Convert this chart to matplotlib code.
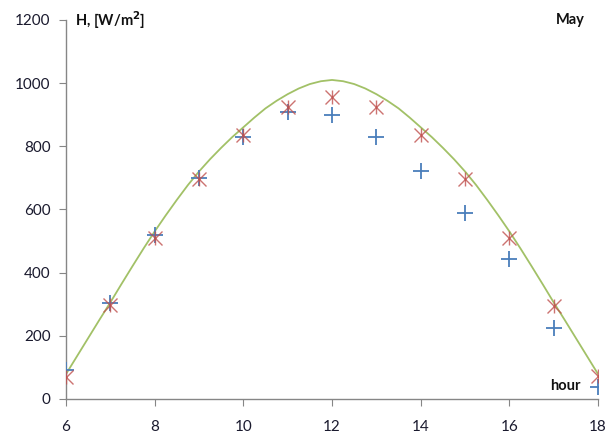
import matplotlib
matplotlib.use("Agg")
import matplotlib.pyplot as plt

hours = [6, 7, 8, 9, 10, 11, 12, 13, 14, 15, 16, 17, 18]
measured = [90, 305, 520, 700, 828, 908, 898, 830, 722, 590, 442, 224, 36]
model_pts = [70, 297, 510, 697, 835, 925, 955, 925, 835, 695, 510, 295, 72]

curve_t = [6, 6.25, 6.5, 6.75, 7, 7.25, 7.5, 7.75, 8, 8.25, 8.5, 8.75, 9,
           9.25, 9.5, 9.75, 10, 10.25, 10.5, 10.75, 11, 11.25, 11.5, 11.75, 12,
           12.25, 12.5, 12.75, 13, 13.25, 13.5, 13.75, 14, 14.25, 14.5, 14.75, 15,
           15.25, 15.5, 15.75, 16, 16.25, 16.5, 16.75, 17, 17.25, 17.5, 17.75, 18]
curve_h = [78, 135, 192, 249, 305, 363, 420, 476, 530, 581, 630, 677, 720,
           759, 795, 829, 860, 891, 920, 944, 965, 983, 997, 1006, 1010,
           1006, 997, 983, 965, 944, 920, 891, 860, 829, 795, 759, 720,
           677, 630, 581, 530, 476, 420, 363, 305, 249, 192, 135, 78]

xticks = [6, 8, 10, 12, 14, 16, 18]
yticks = [0, 200, 400, 600, 800, 1000, 1200]

plt.rcParams['font.family'] = ['Lato', 'DejaVu Sans']

fig = plt.figure(figsize=(6.16, 4.34), dpi=100)
ax = fig.add_axes([0.107, 0.081, 0.864, 0.873])

ax.plot(curve_t, curve_h, color='#A2C167', lw=1.3, zorder=2)
ax.plot(hours, measured, ls='none', marker='+', ms=11, mew=1.3, color='#4A7EBB', zorder=3)
ax.plot(hours, model_pts, ls='none', marker='x', ms=10, mew=1.0, color='#C0504D', alpha=0.8, zorder=4)
ax.plot(hours, model_pts, ls='none', marker='|', ms=10, mew=1.0, color='#C0504D', alpha=0.8, zorder=4)

ax.set_xlim(6, 18)
ax.set_ylim(0, 1200)
ax.set_xticks(xticks)
ax.set_yticks(yticks)
ax.spines['top'].set_visible(False)
ax.spines['right'].set_visible(False)
for s in ('left', 'bottom'):
    ax.spines[s].set_color('#868686')
    ax.spines[s].set_linewidth(1.0)
ax.tick_params(axis='both', direction='out', length=5, color='#868686', labelsize=11,
               labelcolor='#1a1a2e')
ax.tick_params(axis='x', pad=10)
ax.tick_params(axis='y', pad=6)

ax.text(6.2, 1200, 'H, [W/m$^\\mathbf{2}$]', fontsize=10.5, fontweight='bold', va='center', ha='left', color='#111111')
ax.text(17.7, 1200, 'May', fontsize=10.5, fontweight='bold', va='center', ha='right', color='#111111')
ax.text(17.6, 40, 'hour', fontsize=10.5, fontweight='bold', va='center', ha='right', color='#111111')

fig.savefig('out.png', dpi=100)
